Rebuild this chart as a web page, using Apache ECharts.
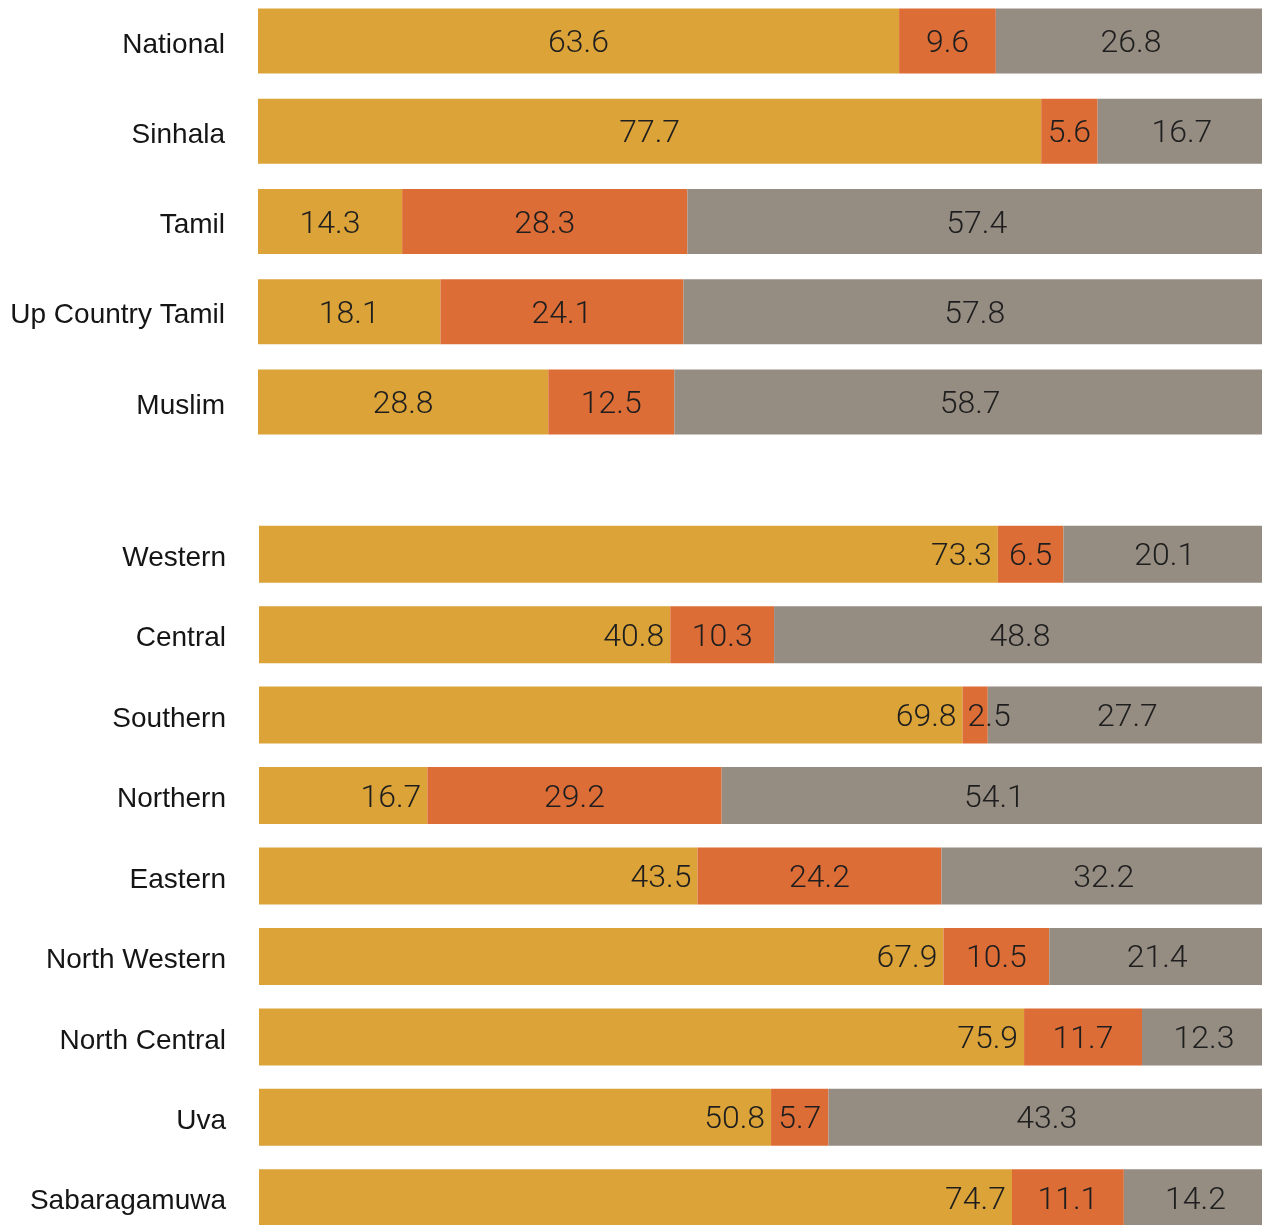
<!DOCTYPE html>
<html>
<head>
<meta charset="utf-8">
<script src="https://cdn.jsdelivr.net/npm/echarts@6/dist/echarts.min.js"></script>
<style>
  html, body { margin: 0; padding: 0; background: #fff; overflow: hidden; width: 1262px; height: 1225px; }
  #chart { position: absolute; left: 0; top: -20px; width: 1280px; height: 1270px; }
</style>
</head>
<body>
<div id="chart"></div>
<script>
// Group 1: ethnicity
const groupACategories = ['National', 'Sinhala', 'Tamil', 'Up Country Tamil', 'Muslim'];
const groupAFirst  = [63.6, 77.7, 14.3, 18.1, 28.8];
const groupASecond = [9.6, 5.6, 28.3, 24.1, 12.5];
const groupAThird  = [26.8, 16.7, 57.4, 57.8, 58.7];

// Group 2: province
const groupBCategories = ['Western', 'Central', 'Southern', 'Northern', 'Eastern', 'North Western', 'North Central', 'Uva', 'Sabaragamuwa'];
const groupBFirst  = [73.3, 40.8, 69.8, 16.7, 43.5, 67.9, 75.9, 50.8, 74.7];
const groupBSecond = [6.5, 10.3, 2.5, 29.2, 24.2, 10.5, 11.7, 5.7, 11.1];
const groupBThird  = [20.1, 48.8, 27.7, 54.1, 32.2, 21.4, 12.3, 43.3, 14.2];

const COLORS = ['#DBA338', '#DD6D37', '#958C82'];
const NUM_FONT = { fontFamily: 'Roboto, "Liberation Sans", Arial, sans-serif', fontWeight: 300, fontSize: 32, color: '#1e1e1e' };
const CAT_FONT = { fontFamily: '"Liberation Sans", Helvetica, Arial, sans-serif', fontSize: 28, color: '#151515' };

function fmt(p) { return p.value.toFixed(1); }

function mkData(arr, narrowRule) {
  return arr.map(v => {
    if (narrowRule && v < 4) {
      return { value: v, label: { position: 'insideLeft', distance: 5 } };
    }
    return v;
  });
}

function series(idx, values, color, pos, dist, narrowRule, barWidth) {
  return {
    type: 'bar', stack: 's' + idx, xAxisIndex: idx, yAxisIndex: idx,
    barWidth: barWidth,
    data: mkData(values, narrowRule),
    itemStyle: { color: color },
    label: Object.assign({ show: true, position: pos, distance: dist, offset: [0, 3], formatter: fmt }, NUM_FONT),
    silent: true,
    animation: false
  };
}

const catLabel = {
  margin: 33,
  formatter: v => '{c|' + v + '}',
  rich: { c: Object.assign({ padding: [8, 0, 0, 0] }, CAT_FONT) }
};

const option = {
  animation: false,
  grid: [
    { left: 258, right: 14, top: 16, height: 451 },
    { left: 259, right: 13, top: 534, height: 724 }
  ],
  xAxis: [
    { gridIndex: 0, type: 'value', min: 0, max: 100, show: false },
    { gridIndex: 1, type: 'value', min: 0, max: 100, show: false }
  ],
  yAxis: [
    { gridIndex: 0, type: 'category', inverse: true, data: groupACategories,
      axisLine: { show: false }, axisTick: { show: false }, splitLine: { show: false },
      axisLabel: catLabel },
    { gridIndex: 1, type: 'category', inverse: true, data: groupBCategories,
      axisLine: { show: false }, axisTick: { show: false }, splitLine: { show: false },
      axisLabel: catLabel }
  ],
  series: [
    series(0, groupAFirst, COLORS[0], 'inside', 5, false, 65),
    series(0, groupASecond, COLORS[1], 'inside', 5, true, 65),
    series(0, groupAThird, COLORS[2], 'inside', 5, false, 65),
    series(1, groupBFirst, COLORS[0], 'insideRight', 6, false, 57),
    series(1, groupBSecond, COLORS[1], 'inside', 5, true, 57),
    series(1, groupBThird, COLORS[2], 'inside', 5, false, 57)
  ]
};

const chart = echarts.init(document.getElementById('chart'), null, { renderer: 'canvas' });
chart.setOption(option);
</script>
</body>
</html>
